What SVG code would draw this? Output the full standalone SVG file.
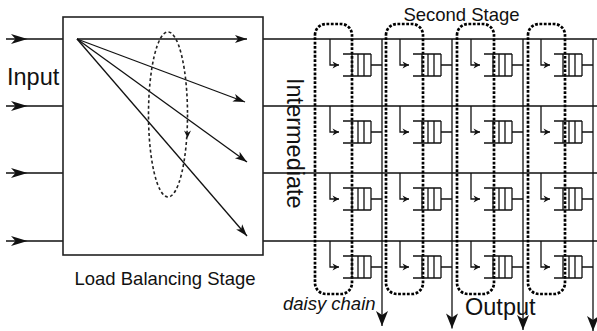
<svg xmlns="http://www.w3.org/2000/svg" xmlns:xlink="http://www.w3.org/1999/xlink" width="597" height="331" viewBox="0 0 597 331">
<style>
  .ln{fill:none;stroke:#111;stroke-width:1.3}
  .box{fill:#fff;stroke:#222;stroke-width:1.6}
  .q{fill:none;stroke:#111;stroke-width:1.3}
  .loop{fill:none;stroke:#000;stroke-width:2.7;stroke-dasharray:2.8 1.6}
  .ell{fill:none;stroke:#222;stroke-width:1.6;stroke-dasharray:3 2.5}
  .head{fill:#111;stroke:none}
  text{font-family:"Liberation Sans",Arial,sans-serif;fill:#111}
  .big{font-size:23.5px}
  .sm{font-size:18.5px}
  .it{font-style:italic}
</style>
<defs>
  <marker id="mBig" markerUnits="userSpaceOnUse" markerWidth="20" markerHeight="16" viewBox="-16 -8 17 16" refX="0" refY="0" orient="auto">
    <path class="head" d="M0,0 L-15,-6 L-11,0 L-15,6 Z"/>
  </marker>
  <marker id="mFan" markerUnits="userSpaceOnUse" markerWidth="14" markerHeight="10" viewBox="-13 -5 14 10" refX="0" refY="0" orient="auto">
    <path class="head" d="M0,0 L-12,-4 L-9,0 L-12,4 Z"/>
  </marker>
  <marker id="mSm" markerUnits="userSpaceOnUse" markerWidth="8" markerHeight="8" viewBox="-7 -4 8 8" refX="0" refY="0" orient="auto">
    <path class="head" d="M0,0 L-6.5,-3.5 L-4.5,0 L-6.5,3.5 Z"/>
  </marker>
  <path id="inHead" class="head" d="M27.5,0 L11,-5 L15.5,0 L11,5 Z"/>
  <g id="cell">
    <path class="ln" d="M-52,0 V26 H-43" marker-end="url(#mSm)"/>
    <path class="q" d="M-39,15 H-11 M-39,37 H-11 M-30,15 V37 M-24,15 V37 M-18,15 V37 M-11,15 V37 M-11,26 H0"/>
  </g>
</defs>

<g id="connectors">
  <path class="ln" d="M6,39 H63 M6,106 H63 M6,173 H63 M6,241 H63"/>
  <use href="#inHead" y="39"/>
  <use href="#inHead" y="106"/>
  <use href="#inHead" y="173"/>
  <use href="#inHead" y="241"/>
  <path class="ln" d="M263,39 H597 M263,106 H597 M263,173 H597 M263,241 H597"/>
  <path class="ln" d="M382,39 V326" marker-end="url(#mBig)"/>
  <path class="ln" d="M452,39 V328.5" marker-end="url(#mBig)"/>
  <path class="ln" d="M523,39 V330" marker-end="url(#mBig)"/>
  <path class="ln" d="M593,39 V331" marker-end="url(#mBig)"/>
</g>

<g id="load-balancing-stage">
  <rect class="box" x="63" y="17" width="200" height="238"/>
  <g id="fan">
    <path class="ln" d="M77,39 L247,39" marker-end="url(#mFan)"/>
    <path class="ln" d="M77,39 L245,102" marker-end="url(#mFan)"/>
    <path class="ln" d="M77,39 L247,162" marker-end="url(#mFan)"/>
    <path class="ln" d="M77,39 L247,236" marker-end="url(#mFan)"/>
  </g>
  <g id="rotation">
    <ellipse class="ell" cx="168" cy="114.5" rx="19.5" ry="82.5"/>
    <path class="head" d="M187.5,138 L184,130.5 L187.5,133 L191,130.5 Z"/>
  </g>
</g>

<g id="daisy-chains">
  <path id="chain1" class="loop" d="M315,35 A11,11 0 0 1 326,24 H341 A11,11 0 0 1 352,35 V283 A11,11 0 0 1 341,294 H326 A11,11 0 0 1 315,283 Z"/>
  <path id="chain2" class="loop" d="M386,35 A11,11 0 0 1 397,24 H412 A11,11 0 0 1 423,35 V283 A11,11 0 0 1 412,294 H397 A11,11 0 0 1 386,283 Z"/>
  <path id="chain3" class="loop" d="M457,35 A11,11 0 0 1 468,24 H483 A11,11 0 0 1 494,35 V283 A11,11 0 0 1 483,294 H468 A11,11 0 0 1 457,283 Z"/>
  <path id="chain4" class="loop" d="M528,35 A11,11 0 0 1 539,24 H554 A11,11 0 0 1 565,35 V283 A11,11 0 0 1 554,294 H539 A11,11 0 0 1 528,283 Z"/>
</g>

<g id="second-stage">
  <g id="q-r1c1" transform="translate(382,39)"><use href="#cell"/></g>
  <g id="q-r1c2" transform="translate(452,39)"><use href="#cell"/></g>
  <g id="q-r1c3" transform="translate(523,39)"><use href="#cell"/></g>
  <g id="q-r1c4" transform="translate(593,39)"><use href="#cell"/></g>
  <g id="q-r2c1" transform="translate(382,106)"><use href="#cell"/></g>
  <g id="q-r2c2" transform="translate(452,106)"><use href="#cell"/></g>
  <g id="q-r2c3" transform="translate(523,106)"><use href="#cell"/></g>
  <g id="q-r2c4" transform="translate(593,106)"><use href="#cell"/></g>
  <g id="q-r3c1" transform="translate(382,173)"><use href="#cell"/></g>
  <g id="q-r3c2" transform="translate(452,173)"><use href="#cell"/></g>
  <g id="q-r3c3" transform="translate(523,173)"><use href="#cell"/></g>
  <g id="q-r3c4" transform="translate(593,173)"><use href="#cell"/></g>
  <g id="q-r4c1" transform="translate(382,241)"><use href="#cell"/></g>
  <g id="q-r4c2" transform="translate(452,241)"><use href="#cell"/></g>
  <g id="q-r4c3" transform="translate(523,241)"><use href="#cell"/></g>
  <g id="q-r4c4" transform="translate(593,241)"><use href="#cell"/></g>
</g>

<g id="labels">
  <text class="big" x="7" y="85">Input</text>
  <text class="big" transform="translate(287,78) rotate(90)">Intermediate</text>
  <text class="sm" x="165" y="285" text-anchor="middle">Load Balancing Stage</text>
  <text class="sm" x="461.5" y="21" text-anchor="middle">Second Stage</text>
  <text class="sm it" x="283" y="310">daisy chain</text>
  <text class="big" x="465" y="315">Output</text>
</g>
</svg>
